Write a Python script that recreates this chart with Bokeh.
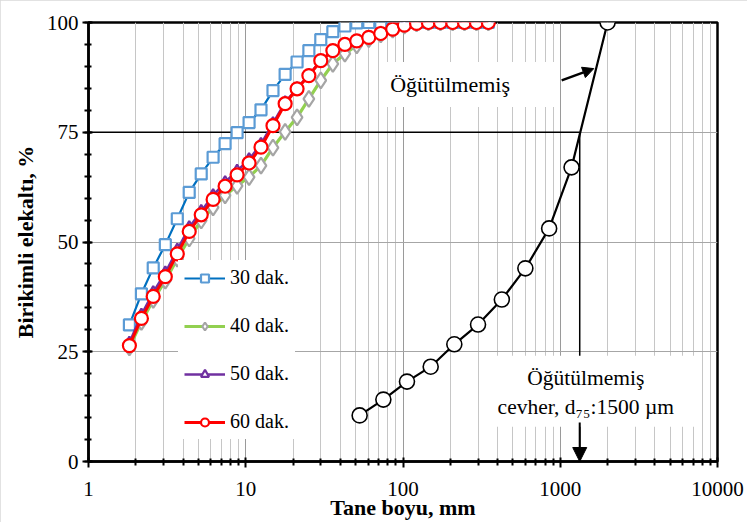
from bokeh.plotting import figure
from bokeh.models import (FixedTicker, PrintfTickFormatter, Label, Arrow, NormalHead,
                          Range1d, Legend, LegendItem)
from bokeh.embed import file_html
from bokeh.resources import INLINE

# ---- data -------------------------------------------------------------
sizes = [1.82, 2.17, 2.58, 3.08, 3.67, 4.37, 5.21, 6.20, 7.39, 8.81, 10.5, 12.5,
         14.9, 17.8, 21.2, 25.2, 30.0, 35.8, 42.7, 50.8, 60.6, 72.2, 86.0, 102,
         122, 145, 173, 207, 246, 293, 349]
pass_30 = [31.1, 38.2, 44.1, 49.4, 55.3, 61.3, 65.5, 69.3, 72.4, 74.9, 77.2, 80.1,
           84.5, 88.2, 91.0, 93.6, 96.1, 97.9, 99.2, 99.9, 100, 100, 100, 100,
           100, 100, 100, 100, 100, 100, 100]
pass_40 = [26.0, 31.8, 36.8, 41.2, 46.2, 50.8, 54.9, 57.9, 60.6, 62.8, 64.8, 67.4,
           71.5, 75.1, 78.4, 82.6, 86.8, 90.6, 92.9, 94.8, 96.2, 97.3, 98.4, 99.3,
           99.8, 100, 100, 100, 100, 100, 100]
pass_50 = [27.0, 33.4, 38.5, 43.0, 48.2, 53.3, 57.0, 60.6, 63.6, 66.2, 68.8, 72.3,
           77.0, 81.8, 85.0, 88.0, 91.3, 93.6, 95.0, 95.8, 96.6, 97.5, 98.5, 99.4,
           99.8, 100, 100, 100, 100, 100, 100]
pass_60 = [26.4, 32.6, 37.6, 42.1, 47.3, 52.4, 56.2, 59.7, 62.7, 65.3, 68.0, 71.6,
           76.5, 81.5, 84.9, 87.9, 91.3, 93.6, 95.0, 95.8, 96.6, 97.5, 98.5, 99.4,
           99.8, 100, 100, 100, 100, 100, 100]

raw_sizes = [53, 75, 106, 150, 212, 300, 425, 600, 850, 1180, 2000]
raw_pass = [10.5, 14.1, 18.2, 21.6, 26.7, 31.2, 36.9, 44.0, 53.1, 67.0, 100]

series_names = ["30 dak.", "40 dak.", "50 dak.", "60 dak."]
x_ticks = [1, 10, 100, 1000, 10000]
x_minor = [m * 10 ** k for k in range(4) for m in range(2, 10)]
y_ticks = [0, 25, 50, 75, 100]

d75_size = 1330
d75_pct = 75
raw_label = "Öğütülmemiş"
d75_label = "Öğütülmemiş\ncevher, d₇₅:1500 µm"

FONT = "Times New Roman"

# ---- figure -------------------------------------------------------------
p = figure(frame_width=629, frame_height=439, x_axis_type="log",
           x_range=Range1d(1, 10000), y_range=Range1d(0, 100),
           output_backend="svg", toolbar_location=None,
           min_border_left=88, min_border_right=30, min_border_top=22,
           min_border_bottom=55, background_fill_color="white",
           border_fill_color="white",
           styles={"outline": "2px solid #d9d9d9", "outline-offset": "-2px"})
p.outline_line_color = "black"
p.outline_line_width = 2.5

# axes
p.xaxis.ticker = FixedTicker(ticks=x_ticks, minor_ticks=x_minor)
p.xaxis.formatter = PrintfTickFormatter(format="%d")
p.yaxis.ticker = FixedTicker(ticks=y_ticks, minor_ticks=list(range(0, 101, 5)))
for ax in (p.xaxis[0], p.yaxis[0]):
    ax.axis_line_color = "black"
    ax.axis_line_width = 2.5
    ax.major_tick_line_color = "black"
    ax.major_tick_line_width = 2
    ax.minor_tick_line_color = "black"
    ax.minor_tick_line_width = 2
    ax.major_tick_in = 4
    ax.major_tick_out = 6
    ax.minor_tick_in = 3
    ax.minor_tick_out = 4
    ax.major_label_text_font = FONT
    ax.major_label_text_font_style = "normal"
    ax.major_label_text_font_size = "21px"
    ax.major_label_text_color = "black"
    ax.axis_label_text_font = FONT
    ax.axis_label_text_font_style = "bold"
    ax.axis_label_text_font_size = "22px"
    ax.axis_label_text_color = "black"
p.xaxis.axis_label = "Tane boyu, mm"
p.yaxis.axis_label = "Birikimli elekaltı, %"
p.xaxis.major_label_standoff = 14
p.xaxis.axis_label_standoff = -4
p.yaxis.major_label_standoff = 4
p.yaxis.axis_label_standoff = 6

# grid
p.xgrid.ticker = FixedTicker(ticks=x_ticks, minor_ticks=x_minor)
p.xgrid.grid_line_color = "#9a9a9a"
p.xgrid.grid_line_width = 1
p.xgrid.minor_grid_line_color = "#c6c6c6"
p.xgrid.minor_grid_line_width = 1
p.ygrid.ticker = FixedTicker(ticks=y_ticks)
p.ygrid.grid_line_color = "#a6a6a6"
p.ygrid.grid_line_width = 1

# d75 guide lines
p.line([x_ticks[0], d75_size], [d75_pct, d75_pct], line_color="black", line_width=1.5)
p.line([d75_size, d75_size], [d75_pct, 0], line_color="black", line_width=1.5)

# unground ore curve
p.line(raw_sizes, raw_pass, line_color="black", line_width=2.2)
p.scatter(raw_sizes, raw_pass, marker="circle", size=15, fill_color="white",
          line_color="black", line_width=1.6)

# ground products
styles = [
    (pass_30, "#0070C0", 2.2, "square", 11, "#5B9BD5"),
    (pass_40, "#92D050", 3.2, "diamond", 16, "#A5A5A5"),
    (pass_50, "#7030A0", 2.6, "triangle", 11, "#7030A0"),
    (pass_60, "#FF0000", 3.0, "circle", 13, "#FF0000"),
]
items = []
for name, (vals, lc, lw, mk, ms, mc) in zip(series_names, styles):
    r1 = p.line(sizes, vals, line_color=lc, line_width=lw)
    r2 = p.scatter(sizes, vals, marker=mk, size=ms, fill_color="white",
                   line_color=mc, line_width=2.2)
    items.append(LegendItem(label=name, renderers=[r1, r2]))

legend = Legend(items=items, location=(90, 22), orientation="vertical",
                label_text_font=FONT, label_text_font_style="normal",
                label_text_font_size="20px",
                label_text_color="black", glyph_width=41, glyph_height=20,
                label_height=20, spacing=25, padding=6, margin=0,
                label_standoff=5, border_line_alpha=0,
                background_fill_color="white", background_fill_alpha=1)
p.add_layout(legend, "center")

# annotations
p.add_layout(Label(x=265, y=85.9, text=raw_label, text_font=FONT,
                   text_font_style="normal",
                   text_font_size="22px", text_align="center",
                   text_baseline="middle", text_color="black",
                   background_fill_color="white",
                   padding=dict(left=11, right=50, top=10, bottom=10)))
p.add_layout(Arrow(end=NormalHead(size=11, fill_color="black", line_color="black"),
                   x_start=1021, y_start=86.8, x_end=1634, y_end=89.5,
                   line_color="black", line_width=2.5))
p.add_layout(Label(x=1733, y=16.0, text=d75_label, text_font=FONT,
                   text_font_style="normal",
                   text_font_size="21.5px", text_align="center",
                   text_baseline="middle", text_color="black",
                   background_fill_color="white",
                   padding=dict(left=4, right=28, top=10, bottom=8)))
p.add_layout(Arrow(end=NormalHead(size=14, fill_color="black", line_color="black"),
                   x_start=d75_size, y_start=8.9, x_end=d75_size, y_end=0,
                   line_color="black", line_width=2))

open("out.html", "w").write(file_html(p, INLINE))
